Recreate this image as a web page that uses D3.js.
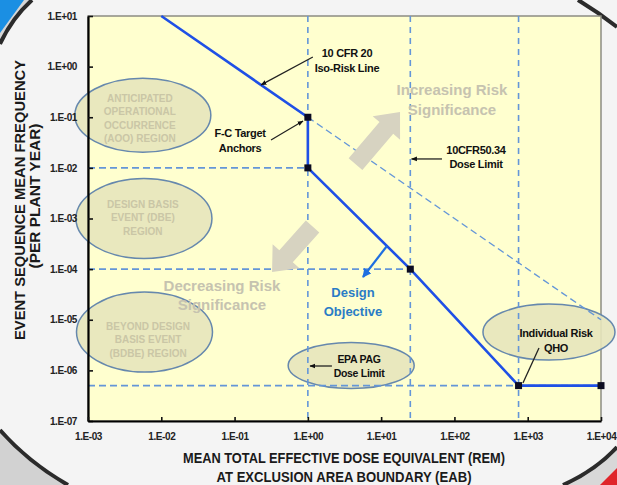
<!DOCTYPE html>
<html>
<head>
<meta charset="utf-8">
<script src="https://cdn.jsdelivr.net/npm/d3@7"></script>
<style>
  html, body { margin: 0; padding: 0; background: #f4f4f4; }
  svg { display: block; }
  text { font-family: "Liberation Sans", Arial, sans-serif; font-weight: bold; }
</style>
</head>
<body>
<svg width="617" height="485"></svg>
<script>
// axis ticks
const xTickValues = [1e-3, 1e-2, 1e-1, 1e0, 1e1, 1e2, 1e3, 1e4]
const xTickLabels = ['1.E-03', '1.E-02', '1.E-01', '1.E+00', '1.E+01', '1.E+02', '1.E+03', '1.E+04']
const yTickValues = [1e-7, 1e-6, 1e-5, 1e-4, 1e-3, 1e-2, 1e-1, 1e0, 1e1]
const yTickLabels = ['1.E-07', '1.E-06', '1.E-05', '1.E-04', '1.E-03', '1.E-02', '1.E-01', '1.E+00', '1.E+01']

// 10 CFR 20 iso-risk line (dose in rem, frequency per plant year)
const isoDose = [0.01, 1, 1, 25, 750, 10000]
const isoFreq = [10, 0.1, 0.01, 1e-4, 5e-7, 5e-7]
// F-C target anchors
const anchorDose = [1, 1, 25, 750, 10000]
const anchorFreq = [0.1, 0.01, 1e-4, 5e-7, 5e-7]

// dashed reference lines
const limitDose = [1, 25, 750]
const levelFreq = [1e-2, 1e-4, 5e-7]
const levelEndDose = [1, 25, 10000]
const slopeDose = [1, 10000]
const slopeFreq = [0.1, 1e-5]

// event regions
const regionLines = [
  ['ANTICIPATED', 'OPERATIONAL', 'OCCURRENCE', '(AOO) REGION'],
  ['DESIGN BASIS', 'EVENT (DBE)', 'REGION'],
  ['BEYOND DESIGN', 'BASIS EVENT', '(BDBE) REGION'],
]
const regionDose = [0.0056, 0.0058, 0.0059]
const regionFreq = [0.11, 1e-3, 5.7e-6]
const regionTextDose = [0.0051, 0.0056, 0.0066]
const regionTextFreq = [0.095, 1.03e-3, 4.0e-6]

// callouts with an ellipse behind them
const bubbleDose = [3.9, 1950]
const bubbleFreq = [1.25e-6, 5.7e-6]

// black callouts
const calloutLines = [
  ['10 CFR 20', 'Iso-Risk Line'],
  ['F-C Target', 'Anchors'],
  ['10CFR50.34', 'Dose Limit'],
  ['EPA PAG', 'Dose Limit'],
  ['Individual Risk', 'QHO'],
]
const calloutDose = [3.42, 0.119, 197, 4.99, 2430]
const calloutFreq = [1.32, 0.0348, 0.0164, 1.22e-6, 3.89e-6]
const pointerFromDose = [1.17, 0.314, 67.6, 2.13, 1425]
const pointerFromFreq = [1.55, 0.0356, 0.015, 1.22e-6, 2.77e-6]
const pointerToDose = [0.23, 0.859, 26, 1.07, 861]
const pointerToFreq = [0.435, 0.0843, 0.015, 1.22e-6, 5.64e-7]

// risk significance arrows
const riskLines = [['Increasing Risk', 'Significance'], ['Decreasing Risk', 'Significance']]
const riskTextDose = [92.7, 0.0673]
const riskTextFreq = [0.223, 3.07e-5]
const riskTailDose = [4.47, 1.16]
const riskTailFreq = [0.0119, 6.95e-4]
const riskTipDose = [18.1, 0.325]
const riskTipFreq = [0.127, 8.8e-5]

// design objective
const designLines = ['Design', 'Objective']
const designDose = 4.13
const designFreq = 2.26e-5
const designArrowDose = [12, 5.65]
const designArrowFreq = [2.86e-4, 7.0e-5]

const svg = d3.select('svg')
const W = 617
const H = 485

const x = d3.scaleLog().domain([1e-3, 1e4]).range([88, 601])
const y = d3.scaleLog().domain([1e-7, 1e1]).range([421, 16])

// slide frame behind the chart
const bg = svg.append('g')
bg.append('rect').attr('width', W).attr('height', H).attr('fill', '#f4f4f4')
bg.append('path').attr('d', 'M0,0 L32,0 Q12,18 0,44 Z').attr('fill', '#d6d6d6')
bg.append('path').attr('d', 'M0,0 L24,0 L0,33 Z').attr('fill', '#1b8fe3')
bg.append('path').attr('d', 'M0,430 Q28,462 68,485 L0,485 Z').attr('fill', '#d2d2d2')
bg.append('path').attr('d', 'M563,485 Q596,470 617,447 L617,485 Z').attr('fill', '#d8d8d8')
bg.append('path').attr('d', 'M600,485 L617,468 L617,485 Z').attr('fill', '#e0242a')
bg.selectAll('path.edge')
  .data(['M0,44 Q12,18 32,0', 'M578,0 Q598,12 617,27', 'M0,430 Q28,462 68,485', 'M563,485 Q596,470 617,447'])
  .join('path')
  .attr('class', 'edge')
  .attr('d', (d) => d)
  .attr('fill', 'none')
  .attr('stroke', '#2b2b2b')
  .attr('stroke-width', 4)

const defs = svg.append('defs')
defs.append('marker')
  .attr('id', 'arrow')
  .attr('viewBox', '0 0 10 10')
  .attr('refX', 9)
  .attr('refY', 5)
  .attr('markerWidth', 6)
  .attr('markerHeight', 6)
  .attr('markerUnits', 'userSpaceOnUse')
  .attr('orient', 'auto')
  .append('path')
  .attr('d', 'M0,1 L10,5 L0,9 Z')
  .attr('fill', '#111')
defs.append('marker')
  .attr('id', 'bluearrow')
  .attr('viewBox', '0 0 10 10')
  .attr('refX', 9)
  .attr('refY', 5)
  .attr('markerWidth', 9)
  .attr('markerHeight', 9)
  .attr('markerUnits', 'userSpaceOnUse')
  .attr('orient', 'auto')
  .append('path')
  .attr('d', 'M0,0 L10,5 L0,10 Z')
  .attr('fill', '#1f6fe0')

// plot area
svg.append('rect')
  .attr('x', x.range()[0])
  .attr('y', y.range()[1])
  .attr('width', x.range()[1] - x.range()[0])
  .attr('height', y.range()[0] - y.range()[1])
  .attr('fill', '#ffffcf')
  .attr('stroke', '#8c8c82')
  .attr('stroke-width', 1.5)

// region ellipses
const ellFill = '#e7e5bb'
const ellStroke = '#6688ad'
svg.append('g')
  .selectAll('ellipse')
  .data(regionDose)
  .join('ellipse')
  .attr('cx', (d) => x(d))
  .attr('cy', (d, i) => y(regionFreq[i]))
  .attr('rx', 68)
  .attr('ry', (d, i) => (i === 0 ? 37 : 40))
  .attr('fill', ellFill)
  .attr('fill-opacity', 0.9)
  .attr('stroke', ellStroke)
  .attr('stroke-width', 1.5)

svg.append('g')
  .selectAll('ellipse')
  .data(bubbleDose)
  .join('ellipse')
  .attr('cx', (d) => x(d))
  .attr('cy', (d, i) => y(bubbleFreq[i]))
  .attr('rx', (d, i) => (i === 0 ? 63 : 66))
  .attr('ry', (d, i) => (i === 0 ? 23 : 28))
  .attr('fill', ellFill)
  .attr('fill-opacity', 0.9)
  .attr('stroke', ellStroke)
  .attr('stroke-width', 1.5)

// dashed reference lines
const dashColor = '#6496d8'
const refs = svg.append('g')
  .attr('fill', 'none')
  .attr('stroke', dashColor)
  .attr('stroke-width', 1.6)
refs.selectAll('line.v')
  .data(limitDose)
  .join('line')
  .attr('class', 'v')
  .attr('x1', (d) => x(d))
  .attr('x2', (d) => x(d))
  .attr('y1', y(1e1))
  .attr('y2', y(1e-7))
  .attr('stroke-dasharray', '6,5')
refs.selectAll('line.h')
  .data(levelFreq)
  .join('line')
  .attr('class', 'h')
  .attr('x1', x(1e-3))
  .attr('x2', (d, i) => x(levelEndDose[i]))
  .attr('y1', (d) => y(d))
  .attr('y2', (d) => y(d))
  .attr('stroke-dasharray', '7,4')
refs.append('path')
  .attr('d', d3.line().x((d) => x(d)).y((d, i) => y(slopeFreq[i]))(slopeDose))
  .attr('stroke-dasharray', '7,4')
  .attr('stroke-width', 1.4)

// region labels
const regionG = svg.append('g')
  .attr('fill', '#cac6a6')
  .attr('font-size', 10)
  .attr('text-anchor', 'middle')
regionLines.forEach((lines, i) => {
  const cx = x(regionTextDose[i])
  const cy = y(regionTextFreq[i])
  const lh = 13.4
  regionG.selectAll(null)
    .data(lines)
    .join('text')
    .attr('x', cx)
    .attr('y', (d, j) => cy + (j - (lines.length - 1) / 2) * lh + 3.6)
    .text((d) => d)
})

// risk significance block arrows
const blockArrow = (x0, y0, x1, y1) => {
  const dx = x1 - x0
  const dy = y1 - y0
  const len = Math.hypot(dx, dy)
  const ux = dx / len
  const uy = dy / len
  const px = -uy
  const py = ux
  const sw = 9
  const hw = 18
  const hl = 21
  const bx = x1 - ux * hl
  const by = y1 - uy * hl
  const pts = [
    [x0 + px * sw, y0 + py * sw],
    [bx + px * sw, by + py * sw],
    [bx + px * hw, by + py * hw],
    [x1, y1],
    [bx - px * hw, by - py * hw],
    [bx - px * sw, by - py * sw],
    [x0 - px * sw, y0 - py * sw],
  ]
  return 'M' + pts.map((p) => p.join(',')).join('L') + 'Z'
}
svg.append('g')
  .selectAll('path')
  .data(riskTailDose)
  .join('path')
  .attr('d', (d, i) => blockArrow(x(d), y(riskTailFreq[i]), x(riskTipDose[i]), y(riskTipFreq[i])))
  .attr('fill', '#d7d3c1')

const riskG = svg.append('g')
  .attr('fill', '#c6c3b0')
  .attr('font-size', 15)
  .attr('text-anchor', 'middle')
riskLines.forEach((lines, i) => {
  const cx = x(riskTextDose[i])
  const cy = y(riskTextFreq[i])
  riskG.selectAll(null)
    .data(lines)
    .join('text')
    .attr('x', cx)
    .attr('y', (d, j) => cy + (j - 0.5) * 19.5 + 5.4)
    .text((d) => d)
})

// iso-risk line and anchors
svg.append('path')
  .attr('d', d3.line().x((d) => x(d)).y((d, i) => y(isoFreq[i]))(isoDose))
  .attr('fill', 'none')
  .attr('stroke', '#1f50e6')
  .attr('stroke-width', 2.6)
  .attr('stroke-linejoin', 'round')

svg.append('g')
  .selectAll('rect')
  .data(anchorDose)
  .join('rect')
  .attr('x', (d) => x(d) - 3.5)
  .attr('y', (d, i) => y(anchorFreq[i]) - 3.5)
  .attr('width', 7)
  .attr('height', 7)
  .attr('fill', '#0c0c22')

// design objective
svg.append('line')
  .attr('x1', x(designArrowDose[0]))
  .attr('y1', y(designArrowFreq[0]))
  .attr('x2', x(designArrowDose[1]))
  .attr('y2', y(designArrowFreq[1]))
  .attr('stroke', '#1f6fe0')
  .attr('stroke-width', 2.2)
  .attr('marker-end', 'url(#bluearrow)')
svg.append('g')
  .attr('fill', '#2a7cc6')
  .attr('font-size', 13)
  .attr('text-anchor', 'middle')
  .selectAll('text')
  .data(designLines)
  .join('text')
  .attr('x', x(designDose))
  .attr('y', (d, j) => y(designFreq) + (j - 0.5) * 19 + 4.7)
  .text((d) => d)

// callouts
svg.append('g')
  .selectAll('line')
  .data(pointerFromDose)
  .join('line')
  .attr('x1', (d) => x(d))
  .attr('y1', (d, i) => y(pointerFromFreq[i]))
  .attr('x2', (d, i) => x(pointerToDose[i]))
  .attr('y2', (d, i) => y(pointerToFreq[i]))
  .attr('stroke', '#222')
  .attr('stroke-width', 1.3)
  .attr('marker-end', (d, i) => (i === 4 ? null : 'url(#arrow)'))

const calloutG = svg.append('g')
  .attr('fill', '#111')
  .attr('text-anchor', 'middle')
  .attr('letter-spacing', -0.3)
calloutLines.forEach((lines, i) => {
  const cx = x(calloutDose[i])
  const cy = y(calloutFreq[i])
  const fs = i === 3 ? 10.5 : 11
  calloutG.selectAll(null)
    .data(lines)
    .join('text')
    .attr('x', cx)
    .attr('y', (d, j) => cy + (j - 0.5) * 14.5 + 4)
    .attr('font-size', fs)
    .text((d) => d)
})

// axes
const yMinor = y.ticks().filter((d) => !yTickValues.includes(d))
const xMinor = x.ticks().filter((d) => !xTickValues.includes(d))

const yAxisG = svg.append('g')
  .attr('transform', `translate(${x.range()[0]},0)`)
  .call(d3.axisLeft(y).tickValues(yMinor).tickFormat('').tickSizeInner(-3).tickSizeOuter(0))
yAxisG.call(d3.axisLeft(y)
    .tickValues(yTickValues)
    .tickFormat((d, i) => yTickLabels[i])
    .tickSizeInner(-5)
    .tickSizeOuter(0)
    .tickPadding(11))

const xAxisG = svg.append('g')
  .attr('transform', `translate(0,${y.range()[0]})`)
  .call(d3.axisBottom(x).tickValues(xMinor).tickFormat('').tickSizeInner(-3).tickSizeOuter(0))
xAxisG.call(d3.axisBottom(x)
    .tickValues(xTickValues)
    .tickFormat((d, i) => xTickLabels[i])
    .tickSizeInner(-4)
    .tickSizeOuter(0)
    .tickPadding(12))

svg.selectAll('.domain').attr('stroke', '#000').attr('stroke-width', 2.2)
svg.selectAll('.tick line').attr('stroke', '#111').attr('stroke-width', 1.6)
svg.selectAll('.tick text')
  .attr('font-family', '"Liberation Sans", Arial, sans-serif')
  .attr('font-weight', 'bold')
  .attr('font-size', 10)
  .attr('letter-spacing', -0.4)
  .attr('fill', '#222')

// axis titles
const yTitle = ['EVENT SEQUENCE MEAN FREQUENCY', '(PER PLANT YEAR)']
const xTitle = ['MEAN TOTAL EFFECTIVE DOSE EQUIVALENT (REM)', 'AT EXCLUSION AREA BOUNDARY (EAB)']
svg.append('g')
  .selectAll('text')
  .data(yTitle)
  .join('text')
  .attr('transform', (d, i) => `translate(${i === 0 ? 25 : 40},${i === 0 ? 200 : 196}) rotate(-90)`)
  .attr('text-anchor', 'middle')
  .attr('font-size', 15)
  .attr('fill', '#1a1a1a')
  .attr('textLength', (d, i) => (i === 0 ? 280 : 145))
  .attr('lengthAdjust', 'spacingAndGlyphs')
  .text((d) => d)
svg.append('g')
  .selectAll('text')
  .data(xTitle)
  .join('text')
  .attr('x', 344)
  .attr('y', (d, i) => (i === 0 ? 463 : 482))
  .attr('text-anchor', 'middle')
  .attr('font-family', '"Liberation Sans Narrow", "Liberation Sans", Arial, sans-serif')
  .attr('font-size', 15)
  .attr('fill', '#1a1a1a')
  .attr('textLength', (d, i) => (i === 0 ? 322 : 255))
  .attr('lengthAdjust', 'spacingAndGlyphs')
  .text((d) => d)
</script>
</body>
</html>
